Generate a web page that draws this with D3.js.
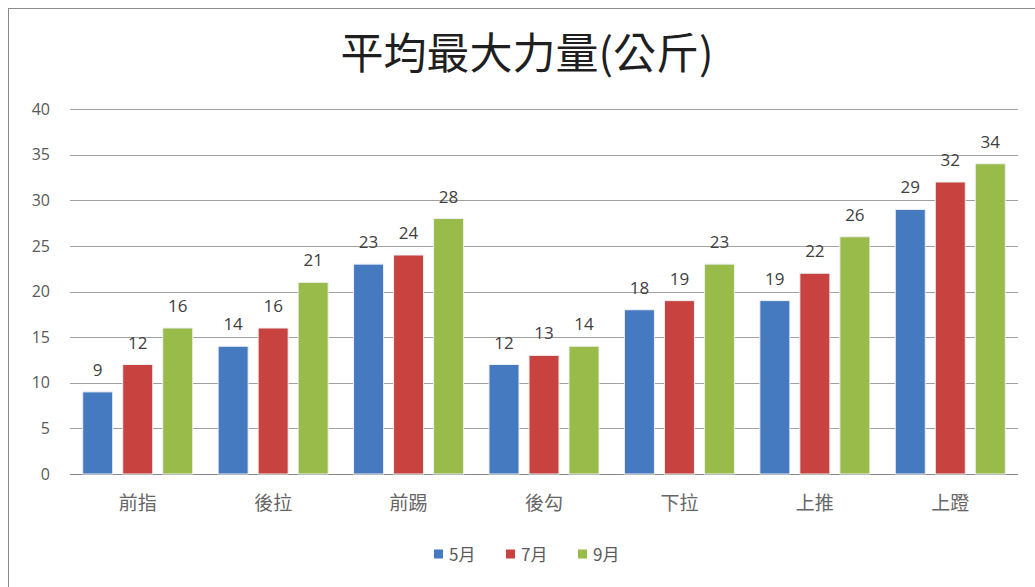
<!DOCTYPE html>
<html>
<head>
<meta charset="utf-8">
<script src="https://cdn.jsdelivr.net/npm/d3@7"></script>
<style>
  html, body { margin: 0; padding: 0; background: #fff; }
  svg { display: block; }
</style>
</head>
<body>
<svg id="chart" width="1035" height="587"></svg>
<script>
const categories = ["前指", "後拉", "前踢", "後勾", "下拉", "上推", "上蹬"];
const seriesNames = ["5月", "7月", "9月"];
const may = [9, 14, 23, 12, 18, 19, 29];
const jul = [12, 16, 24, 13, 19, 22, 32];
const sep = [16, 21, 28, 14, 23, 26, 34];
const yTicks = [0, 5, 10, 15, 20, 25, 30, 35, 40];
const colors = ["#4579c0", "#c8423f", "#98bb4a"];
const title = "平均最大力量(公斤)";

const seriesValues = [may, jul, sep];
const svg = d3.select("#chart");
const cjk = "'Noto Sans CJK TC', 'Noto Sans CJK SC', sans-serif";
const latin = "'Open Sans', 'Noto Sans', sans-serif";

// chart frame
svg.append("rect").attr("x", 8.5).attr("y", 8.5).attr("width", 1040).attr("height", 600)
  .attr("fill", "#fff").attr("stroke", "#8c8c8c").attr("stroke-width", 1);

const x0 = d3.scaleBand().domain(categories).range([70, 1018]).paddingInner(0).paddingOuter(0);
const x1 = d3.scaleBand().domain(seriesNames).range([0, x0.bandwidth()]).paddingInner(0.25).paddingOuter(0.3175);
const y = d3.scaleLinear().domain([0, 40]).range([474, 109]);

// gridlines
svg.append("g").selectAll("line").data(yTicks).join("line")
  .attr("x1", 70).attr("x2", 1018)
  .attr("y1", d => Math.round(y(d)) + 0.5).attr("y2", d => Math.round(y(d)) + 0.5)
  .attr("stroke", d => d === 0 ? "#868686" : "#a0a0a0").attr("stroke-width", 1);

// y axis labels
const yAxis = d3.axisLeft(y).tickValues(yTicks).tickSize(0).tickPadding(0);
const gy = svg.append("g").attr("transform", "translate(50,0)").call(yAxis);
gy.select(".domain").remove();
gy.selectAll("text").attr("font-family", latin).attr("font-size", 16).attr("fill", "#595959");

// bars
const cells = (c, i) => seriesNames.map((s, j) => ({s, v: seriesValues[j][i], j}));
const groups = svg.append("g").selectAll("g").data(categories).join("g")
  .attr("transform", d => `translate(${x0(d)},0)`);
groups.selectAll("rect").data(cells)
  .join("rect")
  .attr("x", d => x1(d.s)).attr("width", x1.bandwidth())
  .attr("y", d => y(d.v)).attr("height", d => y(0) - y(d.v))
  .attr("fill", d => colors[d.j])
  .attr("stroke", "#eef0f4").attr("stroke-width", 1);

groups.selectAll("text").data(cells)
  .join("text")
  .attr("x", d => x1(d.s) + x1.bandwidth() / 2).attr("y", d => y(d.v) - 16)
  .attr("text-anchor", "middle")
  .attr("font-family", latin).attr("font-size", 17).attr("fill", "#404040")
  .text(d => d.v);

// x axis labels
const xAxis = d3.axisBottom(x0).tickSize(0).tickPadding(0);
const gx = svg.append("g").attr("transform", "translate(0,496)").call(xAxis);
gx.select(".domain").remove();
gx.selectAll("text").attr("font-family", cjk).attr("font-size", 19).attr("fill", "#666666");

// title
svg.append("text").attr("x", 527).attr("y", 69).attr("text-anchor", "middle")
  .attr("font-family", cjk).attr("font-size", 43).attr("fill", "#1f1f1f")
  .text(title);

// legend
const legendX = [434, 506, 578];
const lg = svg.append("g").selectAll("g").data(seriesNames).join("g")
  .attr("transform", (d, i) => `translate(${legendX[i]},554)`);
lg.append("rect").attr("x", 0).attr("y", -4.5).attr("width", 9).attr("height", 9)
  .attr("fill", (d, i) => colors[i]);
lg.append("text").attr("x", 15).attr("y", 6.5)
  .attr("font-family", cjk).attr("font-size", 17).attr("fill", "#595959")
  .text(d => d);
</script>
</body>
</html>
